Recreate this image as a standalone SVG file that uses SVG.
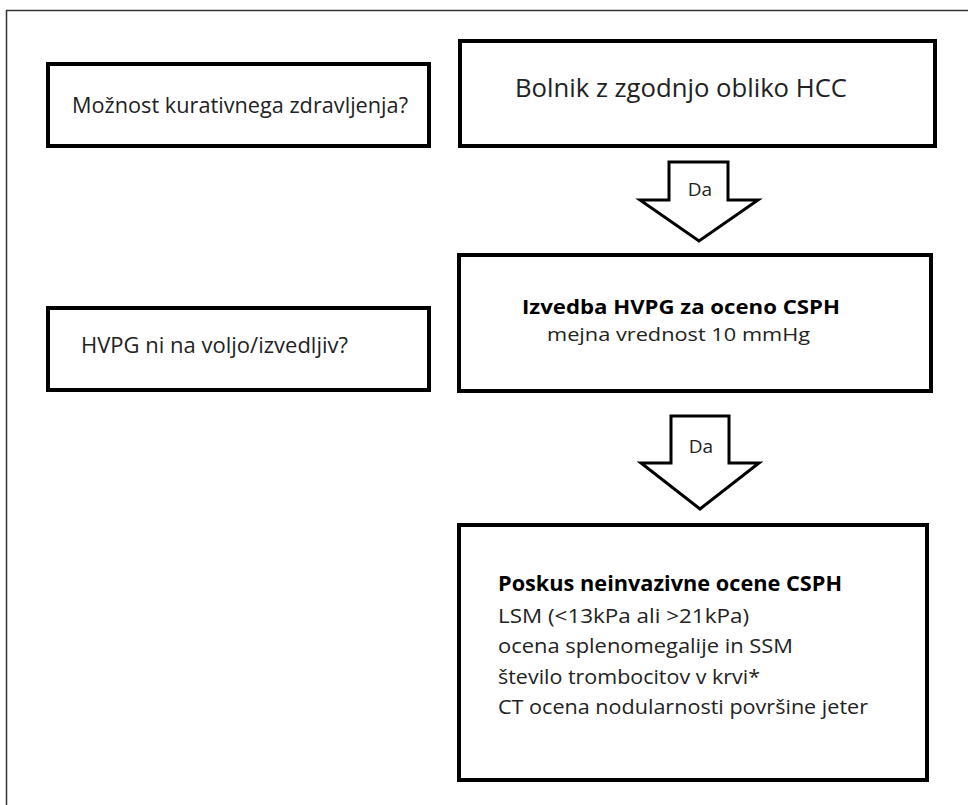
<svg xmlns="http://www.w3.org/2000/svg" width="968" height="805" viewBox="0 0 968 805">
<style>
.box{fill:#fff;stroke:#000;stroke-width:4}
.arr{fill:#fff;stroke:#000;stroke-width:3;stroke-linejoin:miter}
text{font-family:"Open Sans","Noto Sans","Liberation Sans",sans-serif;fill:#222}
.b{font-weight:bold;fill:#000}
</style>
<rect width="968" height="805" fill="#fff"/>
<g id="frame"><path d="M6.5 805 V10.5 H968" fill="none" stroke="#333" stroke-width="1.5"/></g>
<g id="n-moznost">
<rect class="box" x="48" y="64" width="381" height="82"/>
<text x="72" y="113" font-size="21.5" textLength="336" lengthAdjust="spacingAndGlyphs">Možnost kurativnega zdravljenja?</text>
</g>
<g id="n-bolnik">
<rect class="box" x="460" y="41" width="475" height="105"/>
<text x="515" y="97" font-size="25.5" textLength="332" lengthAdjust="spacingAndGlyphs">Bolnik z zgodnjo obliko HCC</text>
</g>
<g id="n-hvpgni">
<rect class="box" x="48" y="308" width="381" height="82"/>
<text x="81" y="353" font-size="21.5" textLength="267" lengthAdjust="spacingAndGlyphs">HVPG ni na voljo/izvedljiv?</text>
</g>
<g id="n-izvedba">
<rect class="box" x="459" y="255" width="472" height="136"/>
<text class="b" x="522" y="314" font-size="19" textLength="318" lengthAdjust="spacingAndGlyphs">Izvedba HVPG za oceno CSPH</text>
<text x="547" y="341" font-size="19" textLength="263" lengthAdjust="spacingAndGlyphs">mejna vrednost 10 mmHg</text>
</g>
<g id="n-poskus">
<rect class="box" x="459" y="525" width="468" height="255"/>
<text class="b" x="498" y="591" font-size="20.5" textLength="344" lengthAdjust="spacingAndGlyphs">Poskus neinvazivne ocene CSPH</text>
<text x="498" y="623" font-size="20.5" textLength="251" lengthAdjust="spacingAndGlyphs">LSM (&lt;13kPa ali &gt;21kPa)</text>
<text x="498" y="653" font-size="20.5" textLength="295" lengthAdjust="spacingAndGlyphs">ocena splenomegalije in SSM</text>
<text x="498" y="684" font-size="20.5" textLength="262" lengthAdjust="spacingAndGlyphs">število trombocitov v krvi*</text>
<text x="498" y="714" font-size="20.5" textLength="370" lengthAdjust="spacingAndGlyphs">CT ocena nodularnosti površine jeter</text>
</g>
<g id="connectors">
<g id="arrow1">
<path class="arr" d="M669 162 H728 V200 H758 L699 241 L640 200 H669 Z"/>
<text x="700" y="196" font-size="19" text-anchor="middle">Da</text>
</g>
<g id="arrow2">
<path class="arr" d="M671 416 H729 V463 H759 L700 509 L641 463 H671 Z"/>
<text x="701" y="453" font-size="19" text-anchor="middle">Da</text>
</g>
</g>
</svg>
